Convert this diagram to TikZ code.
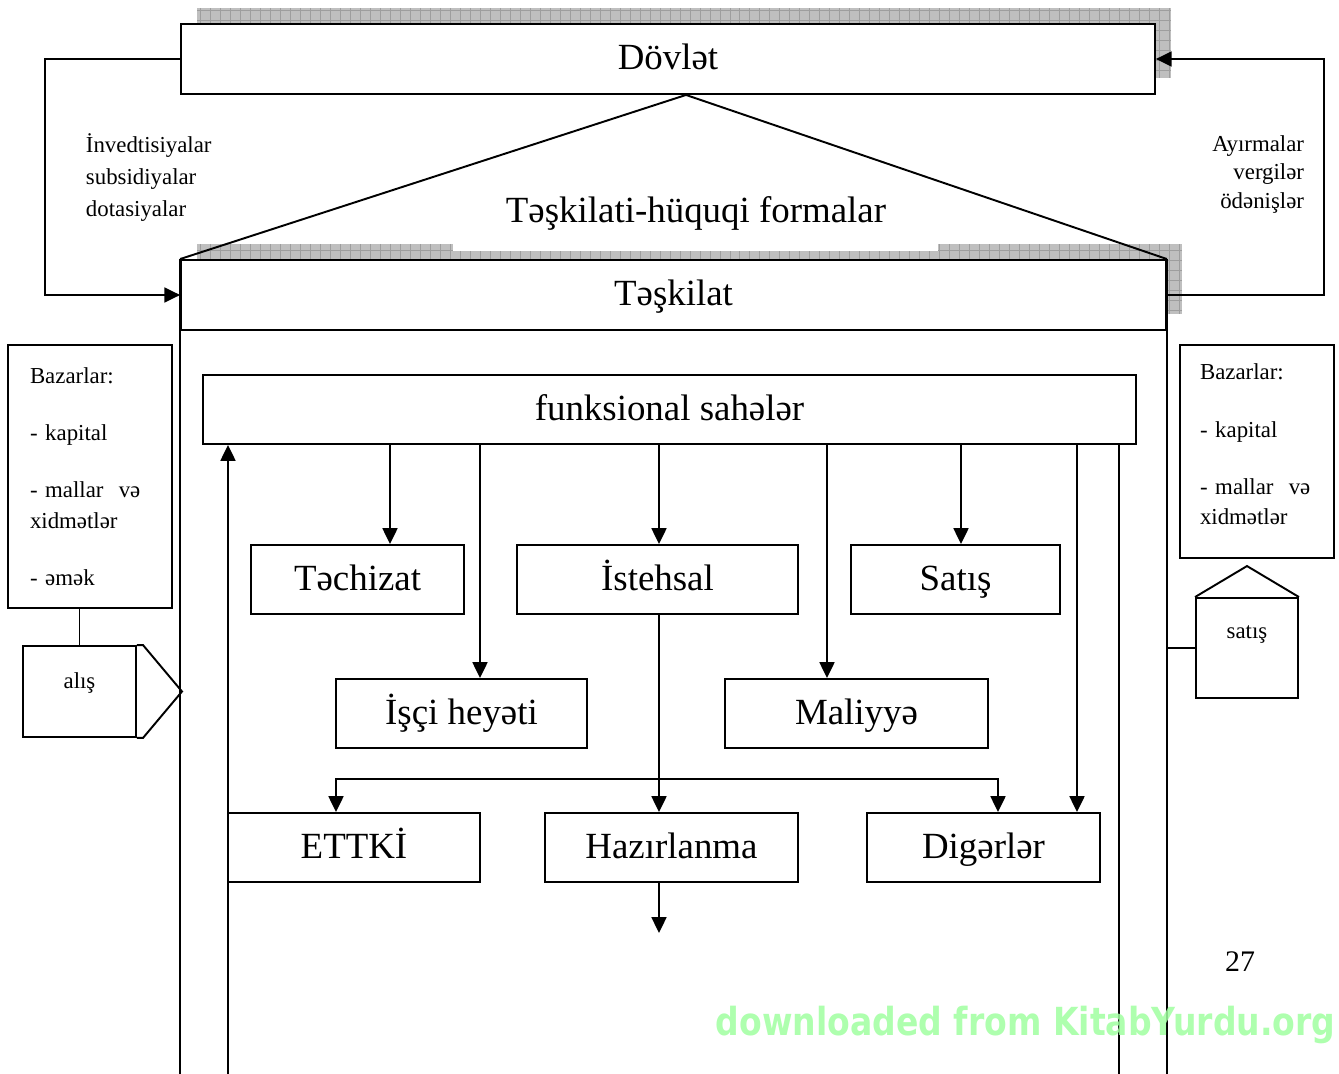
\documentclass[tikz,border=0pt]{standalone}
\usepackage{fontspec}
\setmainfont{Liberation Serif}
\newfontfamily\wmfont{DejaVu Sans}
\usepackage{xcolor}
\usepackage{tikz}
\usetikzlibrary{arrows.meta}
\definecolor{wmgreen}{RGB}{160,255,160}

\begin{document}
\begin{tikzpicture}[
        x=0.02cm, y=-0.02cm,
        line width=1.1pt,
        box/.style={draw=black,fill=white,line width=1.1pt,minimum height=1.38cm,inner sep=0pt,text height=15pt,text depth=3pt,font=\fontsize{21}{25}\selectfont},
        plain/.style={draw=black,fill=white,line width=1.1pt,inner sep=0pt,font=\fontsize{13}{16}\selectfont},
        market/.style={plain,align=left,font=\fontsize{13}{17.5}\selectfont},
        small/.style={inner sep=0pt,font=\fontsize{13}{18}\selectfont},
        shade/.style={fill=black!25},
        to/.style={-{Triangle[length=9pt,width=8.5pt]},line width=1.1pt},
        ]
      \useasboundingbox (0,0) rectangle (1339,1074);
      \clip (0,0) rectangle (1339,1074);

      % shadows behind the two top boxes
      \fill[shade] (197,8) rectangle (1171,78);
      \fill[shade] (197,244) rectangle (1182,314);
      \draw[black!38,line width=0.4pt,step=0.2cm] (197,78) grid (1171,8);
      \draw[black!38,line width=0.4pt,step=0.2cm] (197,314) grid (1182,244);
      \fill[white] (453,243) rectangle (938,251.5);

      \node [box, minimum width=19.48cm, minimum height=1.4cm] (dovlet) at (668,59) {Dövlət};
      \node [box, minimum width=19.7cm, minimum height=1.4cm] (taskilat) at (673.5,295) {Təşkilat};
      \node [font=\fontsize{21}{25}\selectfont] (forms) at (696,213) {Təşkilati-hüquqi formalar};
      \draw (taskilat.north west) -- (686,0 |- dovlet.south) -- (taskilat.north east);
      \draw (taskilat.north west) -- (taskilat.north west |- 0,1080);
      \draw (taskilat.north east) -- (taskilat.north east |- 0,1080);

      \node [small, anchor=north west, align=left] (invest) at (85,133) {İnvedtisiyalar\\subsidiyalar\\dotasiyalar};
      \node [small, anchor=north east, align=right, font=\fontsize{13}{16}\selectfont] (ayirma) at (1305,135) {Ayırmalar\\vergilər\\ödənişlər};

      \draw[to] (dovlet.west) -- (45,0 |- dovlet.west) |- (taskilat.west);
      \draw[to] (taskilat.east) -- (1324,0 |- taskilat.east) |- (dovlet.east);

      % functional areas
      \node [box, minimum width=18.66cm] (funk) at (669.5,409.5) {funksional sahələr};
      \node [box, minimum width=4.26cm] (techizat) at (357.5,579.5) {Təchizat};
      \node [box, minimum width=5.62cm] (istehsal) at (657.5,579.5) {İstehsal};
      \node [box, minimum width=4.18cm] (satis) at (955.5,579.5) {Satış};
      \node [box, minimum width=5.02cm] (isci) at (461.5,713.5) {İşçi heyəti};
      \node [box, minimum width=5.26cm] (maliyye) at (856.5,713.5) {Maliyyə};
      \node [box, minimum width=5.04cm] (ettki) at (354,847.5) {ETTKİ};
      \node [box, minimum width=5.06cm] (hazir) at (671.5,847.5) {Hazırlanma};
      \node [box, minimum width=4.66cm] (digerler) at (983.5,847.5) {Digərlər};

      \draw[to] (390,0 |- funk.south) -- (390,0 |- techizat.north);
      \draw[to] (480,0 |- funk.south) -- (480,0 |- isci.north);
      \draw[to] (659,0 |- funk.south) -- (659,0 |- istehsal.north);
      \draw[to] (827,0 |- funk.south) -- (827,0 |- maliyye.north);
      \draw[to] (961,0 |- funk.south) -- (961,0 |- satis.north);
      \draw[to] (1077,0 |- funk.south) -- (1077,0 |- digerler.north);
      \draw (1119,0 |- funk.south) -- (1119,1080);
      \draw[to] (228,1080) -- (228,0 |- funk.south);
      \draw[to] (659,0 |- istehsal.south) -- (659,0 |- hazir.north);
      \coordinate (split) at (659,779);
      \draw[to] (split) -| (336,0 |- ettki.north);
      \draw[to] (split) -| (998,0 |- digerler.north);
      \draw[to] (659,0 |- hazir.south) -- (659,933);

      % markets
      \node [market, minimum width=3.28cm, minimum height=5.26cm, text width=2.4cm, inner xsep=0.44cm] (bazarL) at (90,476.5)
            {Bazarlar:\\[15pt]- kapital\\[15pt]- mallar~~və\\xidmətlər\\[15pt]- əmək};
      \node [market, minimum width=3.08cm, minimum height=4.26cm, text width=2.28cm, inner xsep=0.4cm] (bazarR) at (1257,451.5)
            {Bazarlar:\\[15pt]- kapital\\[15pt]- mallar~~və\\xidmətlər\\[-9.5pt]~};

      \node [plain, minimum width=2.26cm, minimum height=1.82cm, text depth=0.45cm] (alis) at (79.5,691.5) {alış};
      \draw (alis.north east) -- (143,0 |- alis.north) -- (182,0 |- alis.east) -- (143,0 |- alis.south) -- (alis.south east);
      \draw (alis.north) -- (alis.north |- bazarL.south);

      \node [plain, minimum width=2.04cm, minimum height=2cm, text depth=0.65cm] (satisbox) at (1247,648) {satış};
      \draw (satisbox.north west) -- ([yshift=0.62cm]satisbox.north) -- (satisbox.north east);
      \draw (taskilat.east |- satisbox.west) -- (satisbox.west);

      \node [font=\fontsize{17}{20}\selectfont] (page) at (1240,962) {27};
      \node [text=wmgreen, opacity=0.85, font=\wmfont\bfseries\fontsize{22}{26}\selectfont, anchor=base west, xscale=0.855, inner sep=0pt] (wm) at (715,1035) {downloaded from KitabYurdu.org};
\end{tikzpicture}
\end{document}
